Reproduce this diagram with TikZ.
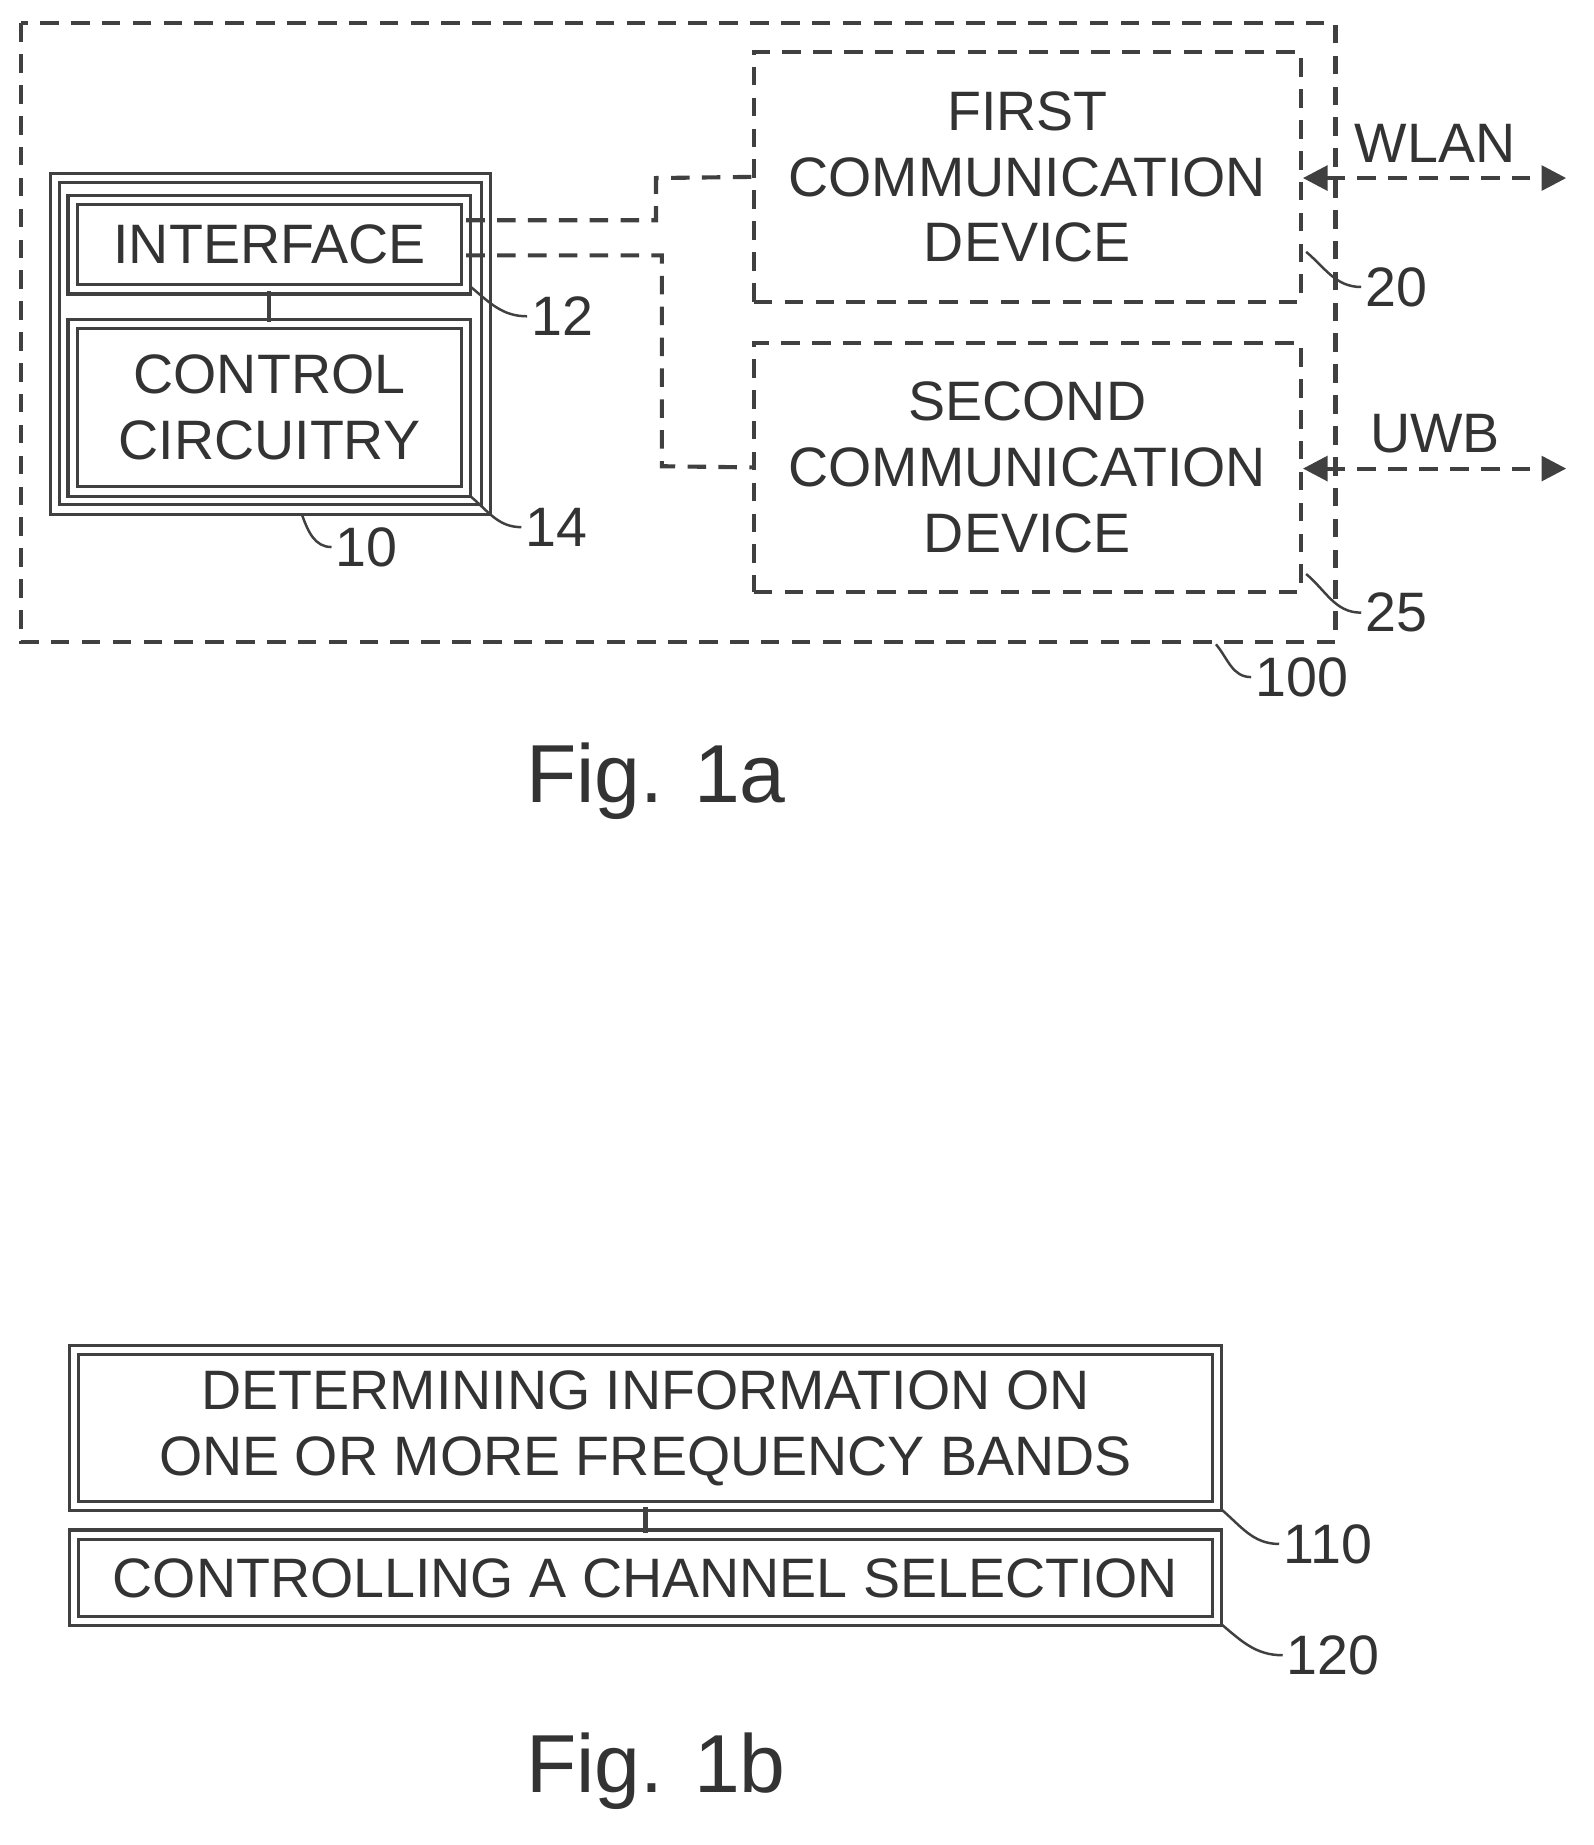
\documentclass[tikz,border=0pt]{standalone}
\usepackage{fontspec}
\setmainfont{Liberation Sans}
\usetikzlibrary{arrows.meta,positioning}
\begin{document}
\begin{tikzpicture}[x=0.02cm,y=-0.02cm,line width=2pt,draw=black!75]
	\tikzstyle{every node}=[text=black!80,font=\fontsize{27}{34}\selectfont,align=center]
	\tikzstyle{dbl}=[draw=black!75,double distance=3pt,line width=1.5pt,inner sep=0pt]
	\tikzstyle{dsh}=[draw=black!75,dash pattern=on 9pt off 6pt,inner sep=0pt]
	\tikzstyle{lead}=[draw=black!75,line width=1.2pt]
	\tikzstyle{num}=[inner sep=1pt,anchor=west]
	\tikzstyle{fig}=[font=\fontsize{40}{46}\selectfont]
	\useasboundingbox (0,0) rectangle (1360,1575);

	% Fig. 1a
	\draw[dsh] (18,20) rectangle (1140,548);
	\draw[dbl] (47,152) rectangle (415,435);
	\node[dbl,minimum width=336*0.02cm,minimum height=76*0.02cm] (ifc) at (230,209) {INTERFACE};
	\node[dbl,minimum width=336*0.02cm,minimum height=143*0.02cm] (ctl) at (230,348) {CONTROL\\[-2pt]CIRCUITRY};
	\draw (ifc) -- (ctl);
	\node[dsh,minimum width=467*0.02cm,minimum height=213*0.02cm] (dev1) at (877,151) {FIRST\\[-2pt]COMMUNICATION\\[-2pt]DEVICE};
	\node[dsh,minimum width=467*0.02cm,minimum height=212*0.02cm] (dev2) at (877,399) {SECOND\\[-2pt]COMMUNICATION\\[-2pt]DEVICE};

	\path[dsh]
	(398,188) -- (560,188) -- (560,152) -- (dev1.west)
	(398,218) -- (565,218) -- (565,398) -- (dev2.west)
	;
	\coordinate (w) at (1337,152);
	\coordinate (u) at (1337,400);
	\draw[dsh,{Triangle[length=12pt,width=12pt]}-{Triangle[length=12pt,width=12pt]}] (dev1.east |- w) -- (w);
	\draw[dsh,{Triangle[length=12pt,width=12pt]}-{Triangle[length=12pt,width=12pt]}] (dev2.east |- u) -- (u);
	\node (wlan) at (1225,122) {WLAN};
	\node (uwb) at (1225,370) {UWB};

	% reference numerals
	\node[num] (n12) at (450,270) {12};
	\node[num] (n14) at (445,450) {14};
	\node[num] (n10) at (283,467) {10};
	\node[num] (n20) at (1162,245) {20};
	\node[num] (n25) at (1162,523) {25};
	\node[num] (n100) at (1068,578) {100};
	\draw[lead] (402,245) to[out=-40,in=180] (n12.west);
	\draw[lead] (402,424) to[out=-40,in=180] (n14.west);
	\draw[lead] (258,440) to[out=-70,in=180] (n10.west);
	\draw[lead] (1115,215) to[out=-40,in=180] (n20.west);
	\draw[lead] (1115,490) to[out=-40,in=180] (n25.west);
	\draw[lead] (1038,550) to[out=-50,in=180] (n100.west);
	\node[fig] (f1a) at (560,667) {Fig. 1a};

	% Fig. 1b
	\node[dbl,minimum width=976*0.02cm,minimum height=133*0.02cm] (s110) at (551,1219) {DETERMINING INFORMATION ON\\[-2pt]ONE OR MORE FREQUENCY BANDS};
	\node[dbl,minimum width=976*0.02cm,minimum height=74*0.02cm] (s120) at (551,1347) {CONTROLLING A CHANNEL SELECTION};
	\draw (s110) -- (s120);
	\node[num] (n110) at (1092,1318) {110};
	\node[num] (n120) at (1095,1413) {120};
	\draw[lead] (1042,1288) to[out=-40,in=180] (n110.west);
	\draw[lead] (1042,1386) to[out=-40,in=180] (n120.west);
	\node[fig] (f1b) at (560,1512) {Fig. 1b};
\end{tikzpicture}
\end{document}
